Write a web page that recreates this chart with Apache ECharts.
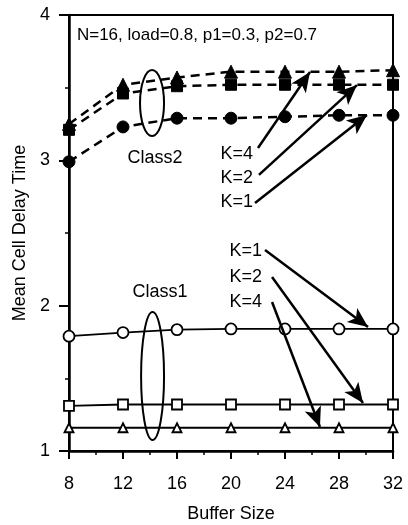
<!DOCTYPE html>
<html>
<head>
<meta charset="utf-8">
<script src="https://cdn.jsdelivr.net/npm/echarts@6/dist/echarts.min.js"></script>
<style>
html,body{margin:0;padding:0;background:#fff;}
#c{width:408px;height:525px;}
</style>
</head>
<body>
<div id="c"></div>
<script>
const bufferSizes = [8, 12, 16, 20, 24, 28, 32];
const class2K4 = [3.25, 3.52, 3.57, 3.61, 3.61, 3.61, 3.62];
const class2K2 = [3.21, 3.46, 3.51, 3.52, 3.52, 3.52, 3.52];
const class2K1 = [2.99, 3.23, 3.29, 3.29, 3.30, 3.31, 3.31];
const class1K1 = [1.79, 1.815, 1.835, 1.84, 1.84, 1.84, 1.84];
const class1K2 = [1.31, 1.32, 1.32, 1.32, 1.32, 1.32, 1.32];
const class1K4 = [1.16, 1.16, 1.16, 1.16, 1.16, 1.16, 1.16];
const yTicks = [1, 2, 3, 4];
const xTicks = [8, 12, 16, 20, 24, 28, 32];
const noteText = 'N=16, load=0.8, p1=0.3, p2=0.7';

// annotation arrows in data coordinates: [from, to]
const arrows = [
  [[22.0, 3.085], [25.85, 3.608]],
  [[22.07, 2.90], [29.33, 3.518]],
  [[21.78, 2.706], [30.07, 3.312]],
  [[22.52, 2.383], [30.15, 1.853]],
  [[23.04, 2.197], [29.78, 1.330]],
  [[23.04, 2.025], [26.59, 1.165]]
];
const kLabels = [
  {text: 'K=4', at: [21.63, 3.04]},
  {text: 'K=2', at: [21.63, 2.88]},
  {text: 'K=1', at: [21.63, 2.71]},
  {text: 'K=1', at: [22.3, 2.376]},
  {text: 'K=2', at: [22.3, 2.197]},
  {text: 'K=4', at: [22.3, 2.025]}
];
const classLabels = [
  {text: 'Class2', at: [14.37, 3.016]},
  {text: 'Class1', at: [14.74, 2.094]}
];
const ellipses = [
  {center: [14.15, 3.394], rx: 0.89, ry: 0.227},
  {center: [14.19, 1.516], rx: 0.85, ry: 0.44}
];

const FONT = 'Liberation Sans, Arial, sans-serif';
const toPairs = arr => bufferSizes.map((x, i) => [x, arr[i]]);

function dashed(name, data, symbol, size) {
  return {
    name, type: 'line', data: toPairs(data), symbol, symbolSize: size,
    lineStyle: {color: '#000', width: 2.5, type: [9, 6]},
    itemStyle: {color: '#000', borderColor: '#000', borderWidth: 1},
    z: 3
  };
}
function solid(name, data, symbol, size) {
  return {
    name, type: 'line', data: toPairs(data), symbol, symbolSize: size,
    lineStyle: {color: '#000', width: 1.8},
    itemStyle: {color: '#fff', borderColor: '#000', borderWidth: 1.8},
    z: 3
  };
}

const chart = echarts.init(document.getElementById('c'), null, {renderer: 'canvas'});
const option = {
  backgroundColor: '#fff',
  animation: false,
  grid: {left: 69, right: 15, top: 15, bottom: 74, containLabel: false, outerBoundsMode: 'none',
    show: true, borderColor: '#000', borderWidth: 2, backgroundColor: 'transparent'},
  xAxis: {
    type: 'value', min: 8, max: 32, interval: 4,
    name: 'Buffer Size', nameLocation: 'middle', nameGap: 54,
    nameTextStyle: {fontFamily: FONT, fontSize: 18, color: '#000'},
    axisLine: {lineStyle: {color: '#000', width: 2.5}},
    axisTick: {length: 8, lineStyle: {color: '#000', width: 2}},
    minorTick: {show: true, splitNumber: 2, length: 4, lineStyle: {color: '#000', width: 1.5}},
    axisLabel: {fontFamily: FONT, fontSize: 18, color: '#000', margin: 24,
      formatter: v => xTicks.includes(v) ? String(v) : ''},
    splitLine: {show: false}
  },
  yAxis: {
    type: 'value', min: 1, max: 4, interval: 1,
    name: 'Mean Cell Delay Time', nameLocation: 'middle', nameGap: 39,
    nameTextStyle: {fontFamily: FONT, fontSize: 18, color: '#000'},
    axisLine: {lineStyle: {color: '#000', width: 2.5}},
    axisTick: {length: 10, lineStyle: {color: '#000', width: 2}},
    minorTick: {show: true, splitNumber: 2, length: 4, lineStyle: {color: '#000', width: 1.5}},
    axisLabel: {fontFamily: FONT, fontSize: 18, color: '#000', margin: 19,
      formatter: v => yTicks.includes(v) ? String(v) : ''},
    splitLine: {show: false}
  },
  series: [
    dashed('Class2 K=1', class2K1, 'circle', 12),
    dashed('Class2 K=2', class2K2, 'rect', 11),
    dashed('Class2 K=4', class2K4, 'triangle', 13),
    solid('Class1 K=1', class1K1, 'circle', 11),
    solid('Class1 K=2', class1K2, 'rect', 10),
    solid('Class1 K=4', class1K4, 'triangle', 9),
    {
      name: 'arrows', type: 'line', data: [], silent: true,
      markLine: {
        silent: true, animation: false,
        symbol: ['none', 'arrow'], symbolSize: [13, 20],
        lineStyle: {color: '#000', width: 2.5, type: 'solid'},
        label: {show: false},
        data: arrows.map(a => [{coord: a[0]}, {coord: a[1]}])
      }
    }
  ]
};
chart.setOption(option);

function px(p) { return chart.convertToPixel({gridIndex: 0}, p); }
const graphics = [];
const notePos = px([8.59, 3.862]);
graphics.push({type: 'text', x: notePos[0], y: notePos[1], style: {text: noteText, fontFamily: FONT, fontSize: 17, fill: '#000', textVerticalAlign: 'middle', verticalAlign: 'middle'}, z: 10});
kLabels.forEach(l => {
  const p = px(l.at);
  graphics.push({type: 'text', x: p[0], y: p[1], style: {text: l.text, fontFamily: FONT, fontSize: 18, fill: '#000', align: 'right', textAlign: 'right', verticalAlign: 'middle', textVerticalAlign: 'middle'}, z: 10});
});
classLabels.forEach(l => {
  const p = px(l.at);
  graphics.push({type: 'text', x: p[0], y: p[1], style: {text: l.text, fontFamily: FONT, fontSize: 18, fill: '#000', align: 'center', textAlign: 'center', verticalAlign: 'middle', textVerticalAlign: 'middle'}, z: 10});
});
ellipses.forEach(e => {
  const c = px(e.center);
  const a = px([e.center[0] + e.rx, e.center[1] + e.ry]);
  graphics.push({type: 'ellipse', shape: {cx: c[0], cy: c[1], rx: Math.abs(a[0] - c[0]), ry: Math.abs(c[1] - a[1])}, style: {fill: 'none', stroke: '#000', lineWidth: 2}, z: 10});
});
chart.setOption({graphic: graphics});
</script>
</body>
</html>
